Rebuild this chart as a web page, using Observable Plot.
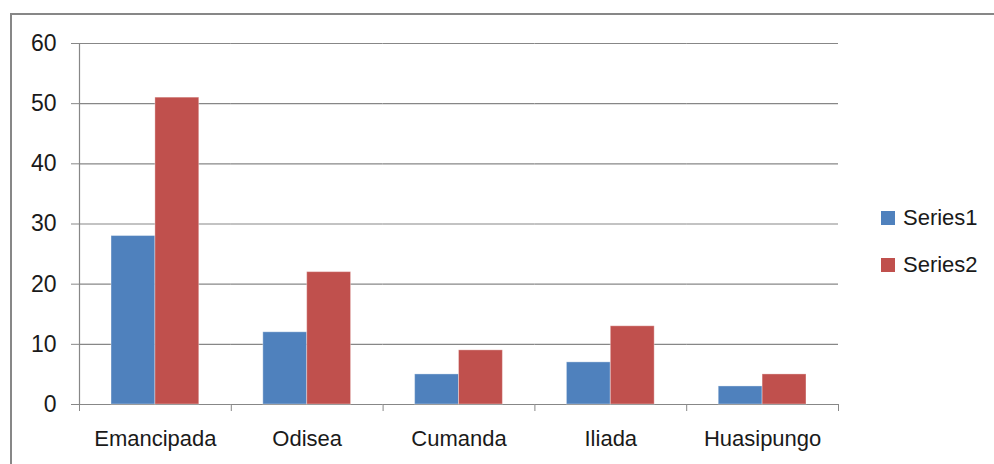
<!DOCTYPE html>
<html>
<head>
<meta charset="utf-8">
<script src="https://cdn.jsdelivr.net/npm/d3@7"></script>
<script src="https://cdn.jsdelivr.net/npm/@observablehq/plot@0.6"></script>
<style>
  html, body { margin: 0; padding: 0; background: #fff; overflow: hidden; }
  #wrap { position: relative; width: 994px; height: 464px; font-family: "Liberation Sans", Arial, sans-serif; color: #1a1a1a; }
  #border { position: absolute; left: 10px; top: 13px; width: 1200px; height: 800px; border-left: 2px solid #878787; border-top: 2px solid #878787; box-sizing: border-box; pointer-events: none; }
  #chart { position: absolute; left: 0; top: 0; }
  #legend { position: absolute; left: 881px; top: 194px; font-size: 22px; line-height: 47px; }
  .item { display: flex; align-items: center; height: 47px; }
  .sw { width: 14px; height: 14px; margin-right: 8px; }
</style>
</head>
<body>
<div id="wrap">
  <div id="chart"></div>
  <div id="border"></div>
  <div id="legend"></div>
</div>
<script>
const categories = ["Emancipada", "Odisea", "Cumanda", "Iliada", "Huasipungo"];
const seriesNames = ["Series1", "Series2"];
const series1 = [28, 12, 5, 7, 3];
const series2 = [51, 22, 9, 13, 5];
const yTicks = [0, 10, 20, 30, 40, 50, 60];
const colors = ["#4F81BD", "#C0504D"];

const data = [];
categories.forEach((c, i) => {
  data.push({category: c, series: seriesNames[0], value: series1[i]});
  data.push({category: c, series: seriesNames[1], value: series2[i]});
});

const W = 994, H = 464, mL = 79, mR = 156, mT = 43, mB = 60;
const step = (W - mL - mR) / categories.length;
const grid = "#878787";

const plot = Plot.plot({
  width: W,
  height: H,
  marginLeft: mL,
  marginRight: mR,
  marginTop: mT,
  marginBottom: mB,
  style: {fontFamily: "Liberation Sans, Arial, sans-serif", fontSize: "22px", color: "#1a1a1a", background: "transparent"},
  fx: {domain: categories, padding: 0, round: false},
  x: {domain: seriesNames, paddingInner: 0, paddingOuter: 0.73, round: false},
  y: {domain: [0, 60]},
  color: {domain: seriesNames, range: colors},
  marks: [
    Plot.ruleY(yTicks, {stroke: grid, strokeWidth: 1.2}),
    Plot.barY(data, {fx: "category", x: "series", y: "value", fill: "series", stroke: "#ffffff", strokeOpacity: 0.35, strokeWidth: 1}),
    Plot.frame({anchor: "left", facetAnchor: "left", stroke: grid, strokeWidth: 1.2}),
    Plot.axisY({ticks: yTicks, tickSize: 8, tickPadding: 15, stroke: grid, fontSize: 23, label: null}),
    Plot.axisX({ticks: [], label: null}),
    Plot.axisFx({anchor: "bottom", tickSize: 0, tickPadding: 26, fontSize: 22, label: null}),
    Plot.axisFx({anchor: "bottom", tickSize: 7, text: null, dx: -step / 2, stroke: grid, label: null}),
    Plot.axisFx({anchor: "bottom", ticks: [categories[categories.length - 1]], tickSize: 7, text: null, dx: step / 2, stroke: grid, label: null})
  ]
});
document.getElementById("chart").appendChild(plot);

const legend = document.getElementById("legend");
seriesNames.forEach((s, i) => {
  const item = document.createElement("div");
  item.className = "item";
  const sw = document.createElement("div");
  sw.className = "sw";
  sw.style.background = colors[i];
  const t = document.createElement("span");
  t.textContent = s;
  item.appendChild(sw);
  item.appendChild(t);
  legend.appendChild(item);
});
</script>
</body>
</html>
